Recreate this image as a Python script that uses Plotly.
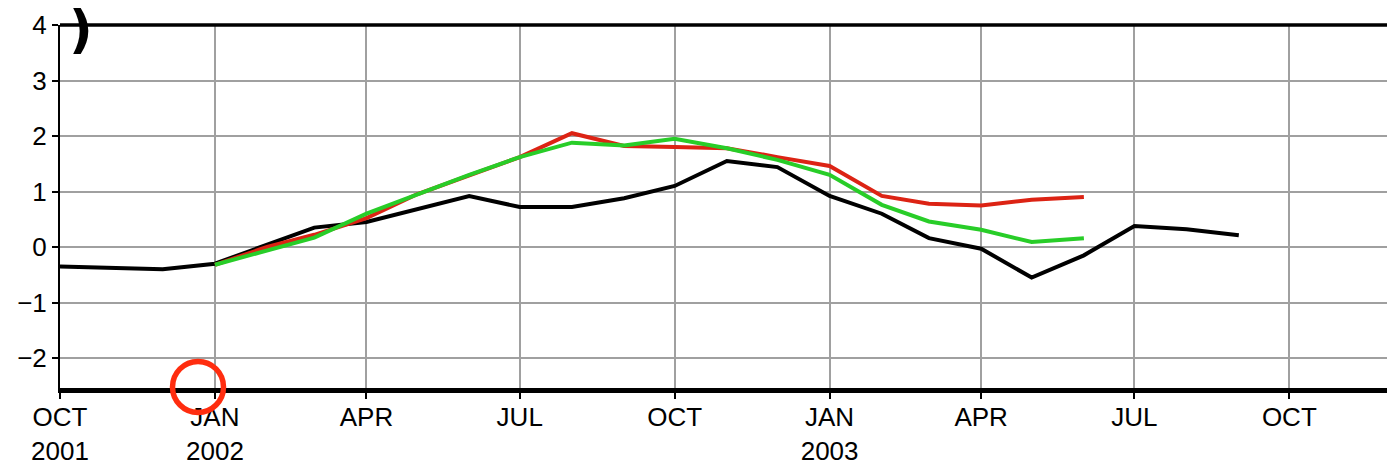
import plotly.graph_objects as go

months_black = ["2001-10-01", "2001-11-01", "2001-12-01", "2002-01-01", "2002-02-01", "2002-03-01",
                "2002-04-01", "2002-05-01", "2002-06-01", "2002-07-01", "2002-08-01", "2002-09-01",
                "2002-10-01", "2002-11-01", "2002-12-01", "2003-01-01", "2003-02-01", "2003-03-01",
                "2003-04-01", "2003-05-01", "2003-06-01", "2003-07-01", "2003-08-01", "2003-09-01"]
black_vals = [-0.35, -0.37, -0.40, -0.30, 0.05, 0.35,
              0.45, 0.68, 0.92, 0.72, 0.72, 0.88,
              1.10, 1.55, 1.44, 0.92, 0.60, 0.16,
              -0.03, -0.55, -0.15, 0.38, 0.32, 0.21]

months_fc = ["2002-01-01", "2002-02-01", "2002-03-01", "2002-04-01", "2002-05-01", "2002-06-01",
             "2002-07-01", "2002-08-01", "2002-09-01", "2002-10-01", "2002-11-01", "2002-12-01",
             "2003-01-01", "2003-02-01", "2003-03-01", "2003-04-01", "2003-05-01", "2003-06-01"]
red_vals = [-0.32, 0.00, 0.22, 0.52, 0.95, 1.30,
            1.62, 2.05, 1.82, 1.80, 1.78, 1.62,
            1.46, 0.92, 0.78, 0.75, 0.85, 0.90]
green_vals = [-0.32, -0.06, 0.17, 0.60, 0.95, 1.30,
              1.62, 1.88, 1.83, 1.95, 1.78, 1.57,
              1.30, 0.76, 0.46, 0.31, 0.09, 0.16]

tick_dates = ["2001-10-01", "2002-01-01", "2002-04-01", "2002-07-01", "2002-10-01",
              "2003-01-01", "2003-04-01", "2003-07-01", "2003-10-01"]
tick_text = ["OCT<br>2001", "JAN<br>2002", "APR", "JUL", "OCT", "JAN<br>2003", "APR", "JUL", "OCT"]
y_ticks = [-2, -1, 0, 1, 2, 3, 4]

FONT = "Liberation Sans, Arial, sans-serif"

fig = go.Figure()
fig.add_trace(go.Scatter(x=months_black, y=black_vals, mode="lines",
                         line=dict(color="black", width=4), hoverinfo="skip"))
fig.add_trace(go.Scatter(x=months_fc, y=red_vals, mode="lines",
                         line=dict(color="rgb(220,35,20)", width=4), hoverinfo="skip"))
fig.add_trace(go.Scatter(x=months_fc, y=green_vals, mode="lines",
                         line=dict(color="rgb(40,205,40)", width=4), hoverinfo="skip"))

fig.update_layout(
    width=1387, height=472,
    margin=dict(l=60, r=0, t=25, b=84, autoexpand=False),
    paper_bgcolor="white", plot_bgcolor="white",
    showlegend=False,
    font=dict(family=FONT, color="black", size=26),
    xaxis=dict(type="date", range=["2001-10-01", "2003-11-28"],
               tickvals=tick_dates, ticktext=tick_text,
               showgrid=True, gridcolor="#a0a0a0", gridwidth=2,
               showline=True, linecolor="black", linewidth=5,
               ticks="outside", ticklen=6, tickwidth=2, tickcolor="black",
               tickfont=dict(family=FONT, size=26), zeroline=False,
               ticklabelstandoff=-4, automargin=False),
    yaxis=dict(range=[-2.54, 4.0], tickvals=y_ticks,
               showgrid=True, gridcolor="#a0a0a0", gridwidth=2,
               showline=True, linecolor="black", linewidth=2,
               ticks="outside", ticklen=6, tickwidth=2, tickcolor="black",
               tickfont=dict(family=FONT, size=26), zeroline=False,
               ticklabelstandoff=0, automargin=False),
)

# top frame line
fig.add_shape(type="line", xref="paper", yref="paper", x0=0, x1=1, y0=1, y1=1,
              line=dict(color="black", width=3.5), layer="above")

# red circle marker overlay
fig.add_shape(type="circle", xref="paper", yref="paper",
              xsizemode="pixel", ysizemode="pixel",
              xanchor=0.104, yanchor=0.003,
              x0=-25.5, x1=25.5, y0=-25.5, y1=25.5,
              line=dict(color="rgb(255,45,15)", width=5.5), layer="above")

# clipped panel label remnant
fig.add_annotation(text=")", xref="paper", yref="paper", x=0.016, y=0.99,
                   xanchor="center", yanchor="middle", showarrow=False,
                   font=dict(family="DejaVu Sans", size=52, color="black", weight="bold"))

fig.write_html("out.html", config={"displayModeBar": False},
               post_script="document.body.style.margin='0';document.body.style.overflow='hidden';")
